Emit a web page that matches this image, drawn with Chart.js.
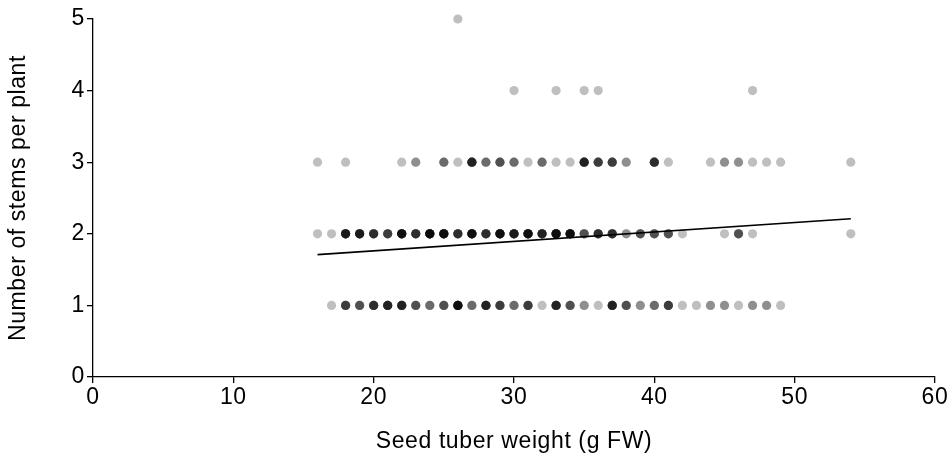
<!DOCTYPE html>
<html>
<head>
<meta charset="utf-8">
<script src="https://cdn.jsdelivr.net/npm/chart.js@4.4.1/dist/chart.umd.min.js"></script>
<style>
  html, body { margin: 0; padding: 0; background: #ffffff; }
  #wrap { width: 950px; height: 456px; }
</style>
</head>
<body>
<div id="wrap"><canvas id="c" width="950" height="456"></canvas></div>
<script>
// ---- data ----
const row1X = [17,18,19,20,21,22,23,24,25,26,27,28,29,30,31,32,33,34,35,36,37,38,39,40,41,42,43,44,45,46,47,48,49];
const row1N = [1,5,4,6,7,7,4,3,4,10,3,7,5,3,5,1,7,4,2,1,7,4,2,3,5,1,1,2,2,1,2,2,1];

const row2X = [16,17,18,19,20,21,22,23,24,25,26,27,28,29,30,31,32,33,34,35,36,37,38,39,40,41,42,45,46,47,54];
const row2N = [1,1,8,8,6,5,10,6,11,10,6,10,6,10,8,10,7,10,10,4,6,6,2,4,4,4,1,1,4,1,1];

const row3X = [16,18,22,23,25,26,27,28,29,30,31,32,33,34,35,36,37,38,40,41,44,45,46,47,48,49,54];
const row3N = [1,1,1,2,3,1,7,3,4,3,1,3,1,1,7,5,5,2,6,1,1,2,2,1,1,1,1];

const row4X = [30,33,35,36,47];
const row4N = [1,1,1,1,1];

const row5X = [26];
const row5N = [1];

const trendX = [16, 54];
const trendY = [1.71, 2.21];

const xTitle = 'Seed tuber weight (g FW)';
const yTitle = 'Number of stems per plant';

// ---- build the point list (each plant one semi-transparent point) ----
const rows = [
  {y: 1, xs: row1X, ns: row1N},
  {y: 2, xs: row2X, ns: row2N},
  {y: 3, xs: row3X, ns: row3N},
  {y: 4, xs: row4X, ns: row4N},
  {y: 5, xs: row5X, ns: row5N}
];
const points = [];
rows.forEach(r => {
  r.xs.forEach((x, i) => {
    for (let k = 0; k < r.ns[i]; k++) points.push({x: x, y: r.y});
  });
});
const trend = trendX.map((x, i) => ({x: x, y: trendY[i]}));

const FONT = 'Liberation Sans, Arial, sans-serif';
const FS = 23;
const SPACING = '0.6px';
const AXIS_LEFT = 93;
const AXIS_BOTTOM = 377;

const spacingPlugin = {
  id: 'spacing',
  beforeInit(chart) { chart.ctx.letterSpacing = SPACING; },
  beforeLayout(chart) { chart.ctx.letterSpacing = SPACING; },
  beforeDraw(chart) { chart.ctx.letterSpacing = SPACING; }
};

new Chart(document.getElementById('c'), {
  type: 'scatter',
  plugins: [spacingPlugin],
  data: {
    datasets: [
      {
        type: 'line',
        data: trend,
        borderColor: '#000000',
        borderWidth: 1.7,
        pointRadius: 0,
        fill: false,
        tension: 0,
        clip: false
      },
      {
        data: points,
        backgroundColor: 'rgba(0,0,0,0.25)',
        borderWidth: 0,
        pointRadius: 4.6,
        pointHoverRadius: 4.6,
        clip: false
      }
    ]
  },
  options: {
    responsive: false,
    animation: false,
    events: [],
    layout: { padding: { left: 0, top: 19, right: 15, bottom: 0 } },
    plugins: { legend: { display: false }, tooltip: { enabled: false } },
    scales: {
      x: {
        type: 'linear',
        min: 0, max: 60,
        afterFit: s => { s.height = 456 - AXIS_BOTTOM; },
        border: { display: true, color: '#000', width: 1.3 },
        grid: { drawOnChartArea: false, drawTicks: true, tickLength: 6, color: '#000', lineWidth: 1.3 },
        ticks: { stepSize: 10, color: '#000', padding: 1, font: { family: FONT, size: FS }, maxRotation: 0 },
        title: { display: true, text: xTitle, color: '#000', font: { family: FONT, size: FS }, padding: { top: 0, bottom: 1 } }
      },
      y: {
        type: 'linear',
        min: 0, max: 5,
        afterFit: s => { s.width = AXIS_LEFT; },
        border: { display: true, color: '#000', width: 1.3 },
        grid: { drawOnChartArea: false, drawTicks: true, tickLength: 6, color: '#000', lineWidth: 1.3 },
        ticks: { stepSize: 1, color: '#000', padding: 2, font: { family: FONT, size: FS } },
        title: { display: true, text: yTitle, color: '#000', font: { family: FONT, size: FS }, padding: { top: 5, bottom: 0 } }
      }
    }
  }
});
</script>
</body>
</html>
